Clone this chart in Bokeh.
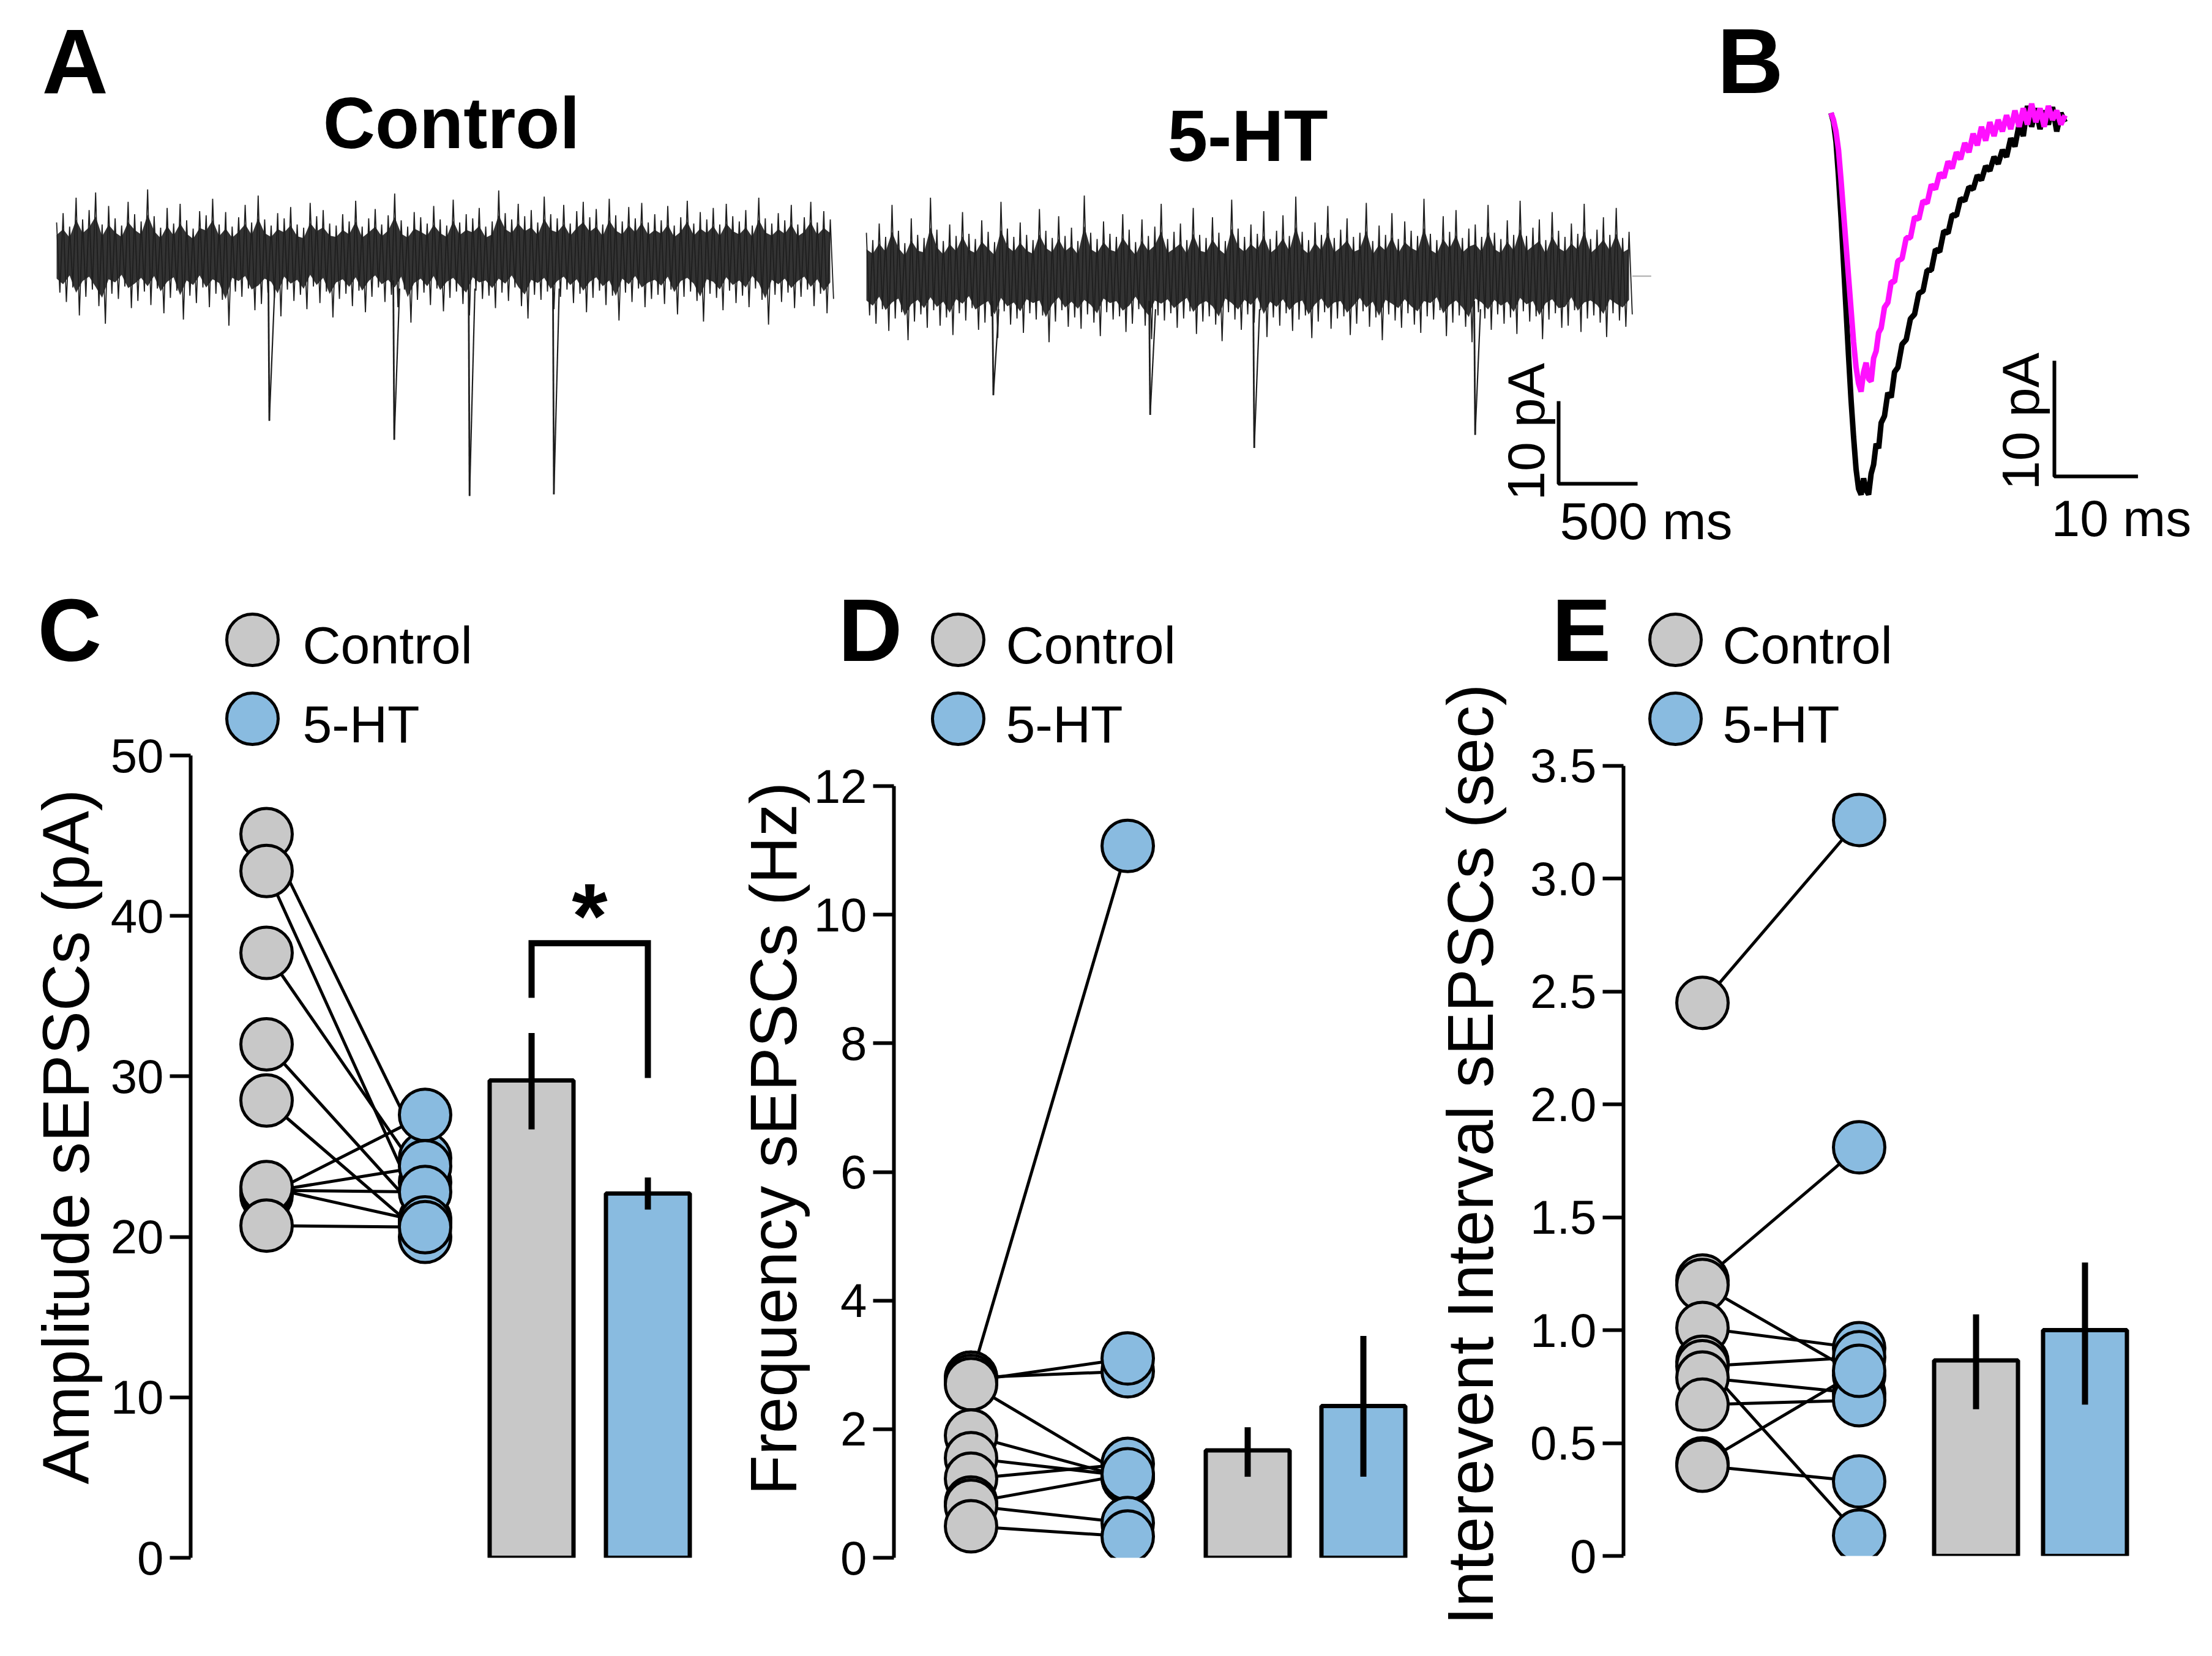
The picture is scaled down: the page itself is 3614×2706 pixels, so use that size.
import numpy as np
from bokeh.plotting import figure
from bokeh.models import Range1d, Label, FixedTicker
from bokeh.layouts import row, column
from bokeh.embed import file_html
from bokeh.resources import INLINE

FONT = "Liberation Sans"
GRAY = "#c8c8c8"
BLUE = "#89bbe0"
MAGENTA = "#ff10ff"
TRACE = "#1e1e1e"
TRACE_CORE = "#333333"

# ---------------------------------------------------------------- data
# Panel A: hand-read noise peaks (relative units, scaled by noise_gain to pA)
noise_gain = 1.25
ctrl_hi = [3.2, 4.1, 2.8, 5.6, 3.5, 4.4, 6.1, 3.0, 4.8, 3.6, 2.9, 5.2, 4.0, 3.3, 6.4, 3.8, 2.7, 4.6, 3.1, 5.0,
           3.4, 2.6, 4.3, 3.9, 5.5, 3.0, 4.2, 2.8, 3.7, 4.9, 3.2, 5.8, 3.5, 2.9, 4.1, 3.6, 4.7, 3.0, 2.7, 5.1,
           3.8, 4.4, 3.1, 2.9, 4.0, 3.3, 5.3, 2.8, 3.6, 4.5, 3.0, 3.9, 6.0, 3.4, 2.8, 4.2, 3.7, 3.1, 4.8, 3.5,
           2.9, 5.4, 3.2, 4.0, 3.6, 4.6, 2.8, 3.3, 6.3, 4.1, 3.5, 5.0, 3.8, 4.4, 3.2, 5.7, 4.0, 3.6, 4.9, 3.1,
           4.3, 5.2, 3.7, 4.5, 3.0, 5.5, 3.9, 3.3, 4.7, 3.6, 5.1, 3.2, 4.0, 3.4, 4.8, 2.9, 3.7, 5.3, 3.1, 4.2,
           3.5, 4.6, 3.0, 5.0, 3.8, 3.3, 4.4, 2.9, 5.6, 3.6, 3.1, 4.1, 3.4, 4.9, 3.0, 3.7, 5.2, 3.2, 4.3, 3.5]
ctrl_lo = [-3.6, -4.5, -3.1, -5.8, -4.0, -3.3, -4.9, -6.6, -3.7, -4.2, -3.0, -5.1, -4.4, -3.5, -4.8, -3.2, -5.6, -4.1, -3.4, -6.2,
           -3.9, -4.6, -3.1, -5.0, -3.7, -4.3, -6.8, -3.5, -4.0, -3.2, -5.3, -4.7, -3.6, -4.1, -5.9, -3.3, -4.4, -3.8, -5.2, -3.0,
           -4.6, -3.5, -6.0, -4.2, -3.7, -4.9, -3.4, -5.5, -4.0, -3.1, -4.5, -3.8, -5.0, -3.3, -6.5, -4.3, -3.6, -4.8, -3.2, -5.4,
           -4.1, -3.5, -4.7, -5.8, -3.4, -4.2, -3.9, -5.1, -3.6, -4.4, -3.1, -4.9, -6.1, -3.8, -4.3, -3.5, -5.2, -4.0, -3.3, -4.6,
           -3.7, -5.5, -4.1, -3.4, -4.8, -3.9, -6.3, -3.6, -4.5, -3.2, -5.0, -4.2, -3.8, -4.7, -3.3, -5.7, -4.0, -3.5, -4.4, -6.4,
           -3.7, -4.1, -5.3, -3.4, -4.6, -3.9, -5.0, -3.2, -4.3, -6.7, -3.8, -4.5, -3.6, -5.1, -4.0, -3.3, -4.9, -3.7, -5.6, -4.2]
ht_hi = [4.2, 3.5, 5.1, 3.8, 6.9, 4.4, 3.2, 5.6, 4.0, 3.7, 7.6, 4.5, 3.4, 5.0, 3.9, 6.2, 4.1, 3.6, 5.4, 4.3,
         3.3, 7.2, 4.6, 3.8, 5.2, 4.0, 3.5, 6.5, 4.4, 3.7, 5.8, 3.9, 4.7, 3.4, 7.8, 4.2, 3.6, 5.3, 4.1, 3.8,
         6.0, 4.5, 3.3, 5.5, 3.9, 4.8, 7.0, 3.6, 4.3, 5.1, 3.5, 6.6, 4.0, 3.7, 5.7, 4.2, 3.4, 7.4, 4.6, 3.8,
         5.0, 4.1, 6.3, 3.6, 4.4, 5.9, 3.9, 7.7, 4.3, 3.5, 5.2, 4.0, 6.8, 3.7, 4.5, 5.6, 3.8, 4.2, 7.1, 3.4,
         4.9, 4.0, 6.1, 3.6, 5.3, 4.4, 3.9, 7.5, 4.1, 3.5, 5.8, 4.3, 6.4, 3.7, 4.6, 5.0, 3.8, 6.9, 4.2, 3.6,
         5.4, 4.0, 7.3, 3.9, 4.7, 5.5, 3.5, 6.2, 4.4, 3.8, 5.1, 4.1, 7.0, 3.6, 4.5, 5.7, 4.0, 6.6, 3.7, 4.3]
ht_lo = [-3.8, -4.6, -3.2, -5.3, -4.1, -3.5, -6.2, -4.4, -3.7, -5.0, -3.3, -4.8, -4.0, -5.7, -3.6, -4.3, -3.1, -5.2, -4.5, -3.9,
         -6.0, -3.4, -4.7, -4.1, -5.5, -3.6, -4.2, -3.8, -6.4, -4.4, -3.3, -4.9, -4.0, -5.1, -3.7, -4.5, -5.8, -3.5, -4.2, -3.9,
         -5.4, -4.6, -3.2, -4.8, -6.1, -3.8, -4.3, -3.6, -5.0, -4.1, -3.4, -5.6, -4.4, -3.9, -4.7, -6.3, -3.5, -4.2, -5.2, -3.7,
         -4.5, -3.3, -5.9, -4.0, -4.8, -3.6, -5.3, -4.2, -3.8, -6.0, -4.4, -3.5, -5.1, -4.1, -3.9, -5.7, -4.6, -3.4, -4.9, -4.0,
         -6.2, -3.7, -4.3, -5.0, -3.6, -4.7, -5.5, -3.9, -4.2, -3.3, -5.8, -4.5, -3.8, -4.9, -6.4, -3.5, -4.1, -5.2, -3.7, -4.6,
         -4.0, -5.6, -3.4, -4.4, -3.9, -6.1, -4.2, -3.6, -5.0, -4.8, -3.3, -5.4, -4.1, -3.8, -4.5, -5.9, -3.6, -4.3, -4.9, -3.7]
ctrl_duration_ms = 4920
ht_duration_ms = 4850
ht_start_ms = 5128
ht_baseline_pa = -2.5
ctrl_spike_t = [1341, 2132, 2609, 3143]
ctrl_spike_amp = [20.0, 22.3, 29.1, 28.9]
ht_spike_t = [798, 1791, 2450, 3849]
ht_spike_amp = [14.4, 16.8, 20.8, 19.2]

# Panel B: averaged sEPSC (ms, pA)
b_t = [0, 0.3, 0.6, 0.9, 1.2, 1.5, 1.8, 2.1, 2.4, 2.7, 3.0, 3.3, 3.6, 3.9, 4.2, 4.5, 4.8, 5.1, 5.4, 5.7, 6.0,
       6.4, 6.8, 7.2, 7.6, 8.0, 8.5, 9.0, 9.5, 10.0, 10.5, 11.0, 11.5, 12.0, 12.5, 13.0, 13.5, 14.0, 14.5, 15.0,
       15.5, 16.0, 16.5, 17.0, 17.5, 18.0, 18.5, 19.0, 19.5, 20.0, 20.5, 21.0, 21.5, 22.0, 22.5, 23.0, 23.5,
       24.0, 24.5, 25.0, 25.5, 26.0, 26.5, 27.0, 27.5, 28.0]
b_control = [0, -0.8, -2.5, -5.5, -9.0, -13.0, -17.0, -21.0, -24.8, -28.0, -30.8, -32.5, -33.0, -31.6, -32.6, -33.0,
             -31.2, -30.4, -28.6, -29.0, -26.8, -26.2, -24.2, -24.6, -22.4, -22.0, -20.0, -19.6, -17.8, -17.4, -15.6,
             -15.4, -13.6, -13.6, -11.8, -12.0, -10.2, -10.4, -8.8, -8.9, -7.4, -7.6, -6.4, -6.6, -5.4, -5.8, -4.6,
             -5.0, -3.8, -4.4, -3.2, -3.8, -2.2, -2.9, -1.0, -2.0, 0.6, -1.2, 0.4, -1.4, 0.2, -1.0, 0.5, -1.6, 0.0, -0.8]
b_5ht = [0, -0.6, -1.6, -3.2, -5.8, -8.6, -11.4, -14.2, -17.0, -19.8, -22.0, -23.4, -24.1, -22.4, -21.6, -23.0,
         -23.2, -21.2, -20.6, -19.0, -18.6, -16.8, -16.4, -14.6, -14.6, -12.8, -12.6, -10.8, -10.8, -9.0, -9.2,
         -7.6, -7.8, -6.2, -6.6, -5.2, -5.6, -4.2, -4.8, -3.4, -4.0, -2.6, -3.4, -1.8, -2.8, -1.2, -2.4, -0.8,
         -2.0, -0.6, -1.6, -0.2, -1.4, 0.2, -1.2, 0.4, -1.0, 0.8, -0.8, 0.4, -1.2, 0.6, -0.6, 0.2, -1.0, -0.2]

# Panel C: amplitude (pA)
amp_control = [45.1, 42.8, 37.7, 32.0, 28.5, 22.6, 22.8, 22.9, 23.1, 20.7]
amp_5ht = [24.9, 21.0, 23.4, 21.1, 20.0, 27.6, 24.4, 22.8, 20.9, 20.6]
amp_mean = [29.75, 22.7]
amp_err_lo = [26.7, 21.7]
amp_err_hi = [32.7, 23.7]
amp_bracket = [34.9, 38.3, 29.9]   # left leg bottom, bracket top, right leg bottom

# Panel D: frequency (Hz)
freq_control = [2.8, 2.8, 2.75, 2.7, 1.9, 1.55, 1.23, 0.86, 0.81, 0.49]
freq_5ht = [11.07, 2.9, 3.1, 1.25, 1.24, 1.27, 1.46, 1.3, 0.54, 0.33]
freq_mean = [1.67, 2.36]
freq_err_lo = [1.26, 1.26]
freq_err_hi = [2.03, 3.45]

# Panel E: interevent interval (s)
iei_control = [2.45, 1.22, 1.20, 1.01, 0.86, 0.84, 0.79, 0.67, 0.41, 0.40]
iei_5ht = [3.26, 1.81, 0.80, 0.92, 0.09, 0.88, 0.72, 0.69, 0.82, 0.33]
iei_mean = [0.866, 1.0]
iei_err_lo = [0.65, 0.67]
iei_err_hi = [1.07, 1.30]

conditions = ["Control", "5-HT"]
cond_colors = [GRAY, BLUE]
y_labels = ["Amplitude sEPSCs (pA)", "Frequency sEPSCs (Hz)", "Interevent Interval sEPSCs (sec)"]

K = 0.07  # svg 'middle' baseline correction (fraction of font size)


def no_align(p):
    try:
        p.frame_align = False
    except Exception:
        pass
    return p


def add_label(p, x, y, text, size, bold=False, align="left", rotated=False):
    p.add_layout(Label(x=x, y=y, text=text, text_font=FONT, text_font_size=f"{size}px",
                       text_font_style="bold" if bold else "normal", text_align=align,
                       text_baseline="middle", angle=(np.pi / 2 if rotated else 0.0),
                       text_color="black"))


def interleave(hi, lo):
    out = []
    for a, b in zip(hi, lo):
        out.extend([a, b])
    return out


def bare(width, height, xr, yr):
    p = figure(width=width, height=height, x_range=xr, y_range=yr,
               x_axis_location=None, y_axis_location=None, toolbar_location=None,
               output_backend="svg", min_border=0)
    p.grid.visible = False
    p.outline_line_color = None
    return no_align(p)


def strip(page_left, page_top, width, height):
    # blank figure whose data coordinates are page pixels (y downwards)
    return bare(width, height, Range1d(page_left, page_left + width),
                Range1d(page_top + height, page_top))


def page_text(p, x, y, text, size, bold=False, align="left", rotated=False):
    if rotated:
        add_label(p, x + K * size, y, text, size, bold, align, rotated=True)
    else:
        add_label(p, x, y + K * size, text, size, bold, align)


# ---------------------------------------------------------------- panel A (page x 8..2930)
A_W, A_H = 2922, 910
A_X0, A_Y0 = 92, 417
A_PXMS, A_PXPA = 0.258, 13.5
XA = lambda page: (page - 8 - A_X0) / A_PXMS
YA = lambda page: (A_Y0 - (page - 8)) / A_PXPA

pA = bare(A_W, A_H, Range1d(-A_X0 / A_PXMS, (A_W - A_X0) / A_PXMS),
          Range1d(-(A_H - A_Y0) / A_PXPA, A_Y0 / A_PXPA))

for start, dur, base, hi, lo in [(0, ctrl_duration_ms, 0.0, ctrl_hi, ctrl_lo),
                                  (ht_start_ms, ht_duration_ms, ht_baseline_pa, ht_hi, ht_lo)]:
    yy = [base + noise_gain * v for v in interleave(hi, lo)]
    tt = start + np.linspace(0, dur, len(yy))
    n = len(yy) // 2
    pA.varea(x=tt[0::2][:n], y1=[base + 0.62 * noise_gain * v for v in lo[:n]],
             y2=[base + 0.62 * noise_gain * v for v in hi[:n]], fill_color=TRACE_CORE)
    pA.line(tt, yy, line_width=1.8, color=TRACE)
    if start > 0:
        pA.line([tt[-1], tt[-1] + 120], [base, base], line_width=2, color="#aaaaaa")

for t0, base, st, sa in [(0, 0.0, ctrl_spike_t, ctrl_spike_amp),
                         (ht_start_ms, ht_baseline_pa, ht_spike_t, ht_spike_amp)]:
    ts = np.array(st) + t0
    amps = np.array(sa)
    pA.segment(x0=ts, y0=base - 3, x1=ts + 6, y1=base - amps, line_width=2.8, color=TRACE)
    pA.segment(x0=ts + 6, y0=base - amps, x1=ts + 40, y1=base - 4, line_width=2.2, color=TRACE)

sbx, sby = XA(2554), YA(663)
pA.line([sbx, sbx, sbx + 500], [sby, sby - 10, sby - 10], line_width=6, color="black")
add_label(pA, XA(2500), YA(713), "10 pA", 86, align="center", rotated=True)
add_label(pA, XA(2556), YA(858), "500 ms", 86)
add_label(pA, XA(745), YA(208), conditions[0], 118, bold=True, align="center")
add_label(pA, XA(2046), YA(229), conditions[1], 118, bold=True, align="center")
add_label(pA, XA(76), YA(107), "A", 150, bold=True)
add_label(pA, XA(2813), YA(107), "B", 150, bold=True)

# ---------------------------------------------------------------- panel B (page x 2930..3606)
B_W, B_H = 676, 910
B_X0, B_Y0 = 69, 184
B_PXMS, B_PXPA = 13.66, 18.9
XB = lambda page: (page - 2930 - B_X0) / B_PXMS
YB = lambda page: (B_Y0 - (page - 8)) / B_PXPA

pB = bare(B_W, B_H, Range1d(-B_X0 / B_PXMS, (B_W - B_X0) / B_PXMS),
          Range1d(-(B_H - B_Y0) / B_PXPA, B_Y0 / B_PXPA))
pB.line(b_t, b_control, line_width=9, color="black")
pB.line(b_t, b_5ht, line_width=9, color=MAGENTA)
bsx, bsy = XB(3364), YB(597)
pB.line([bsx, bsx, bsx + 10], [bsy, bsy - 10, bsy - 10], line_width=6, color="black")
add_label(pB, XB(3308), YB(696), "10 pA", 86, align="center", rotated=True)
add_label(pB, XB(3359), YB(854), "10 ms", 84)


# ---------------------------------------------------------------- bottom panels
def main_panel(page_left, page_top, width, height, frame_left_page, frame_bottom_page, ppu, ticks,
               slots, bar_w, ctrl, ht, means, err_lo, err_hi, overrides=None):
    X = lambda page: (page - frame_left_page) / 100.0
    Y = lambda page: (frame_bottom_page - page) / ppu
    fl = frame_left_page - page_left
    p = figure(width=width, height=height, x_range=Range1d(0, (width - fl) / 100.0),
               y_range=Range1d(0, (frame_bottom_page - page_top) / ppu),
               x_axis_location=None, y_axis_location="left", toolbar_location=None,
               output_backend="svg", min_border_left=fl, min_border_right=0, min_border_top=0,
               min_border_bottom=page_top + height - frame_bottom_page)
    no_align(p)
    p.grid.visible = False
    p.outline_line_color = None
    ax = p.yaxis[0]
    ax.ticker = FixedTicker(ticks=ticks)
    ax.bounds = (ticks[0], ticks[-1])
    ax.axis_line_width = 6
    ax.major_tick_line_width = 6
    ax.major_tick_out = 34
    ax.major_tick_in = 0
    ax.minor_tick_out = 0
    ax.minor_tick_in = 0
    ax.major_label_standoff = 10
    ax.major_label_text_font = FONT
    ax.major_label_text_font_size = "78px"
    ax.major_label_text_color = "black"
    if overrides:
        ax.major_label_overrides = overrides

    xc, xh, xbc, xbh = [X(v) for v in slots]
    bw = bar_w / 100.0
    n = len(ctrl)
    p.vbar(x=[xbc, xbh], top=means, bottom=0, width=bw, fill_color=cond_colors,
           line_color="black", line_width=7)
    p.segment(x0=[xbc, xbh], y0=err_lo, x1=[xbc, xbh], y1=err_hi, line_width=10, color="black")
    p.segment(x0=[xc] * n, y0=ctrl, x1=[xh] * n, y1=ht, line_width=5, color="black")
    p.scatter(x=[xc] * n, y=ctrl, size=84, fill_color=GRAY, line_color="black", line_width=5)
    p.scatter(x=[xh] * n, y=ht, size=84, fill_color=BLUE, line_color="black", line_width=5)
    return p, X, Y, xbc, xbh


def legend_entry(p, X, Y, i, cx, cy, tx, ty):
    p.scatter(x=[X(cx)], y=[Y(cy)], size=84, fill_color=cond_colors[i],
              line_color="black", line_width=5)
    add_label(p, X(tx), Y(ty + K * 86), conditions[i], 86)


ident = lambda v: v

# ---- C: strip (8..180) + main (180..1180)
sC = strip(8, 918, 172, 1780)
page_text(sC, 69, 1027, "C", 145, bold=True)
page_text(sC, 108, 1865, y_labels[0], 107, align="center", rotated=True)
pC, XC, YC, xbc, xbh = main_panel(180, 918, 1000, 1780, 319, 2553, 26.22, [0, 10, 20, 30, 40, 50],
                                  [443, 702, 876, 1066], 137,
                                  amp_control, amp_5ht, amp_mean, amp_err_lo, amp_err_hi)
legend_entry(pC, XC, YC, 0, 420, 1053, 502, 1055)
legend_entry(pC, XC, YC, 1, 420, 1182, 502, 1184)
pC.line([xbc, xbc, xbh, xbh], [amp_bracket[0], amp_bracket[1], amp_bracket[1], amp_bracket[2]],
        line_width=10, color="black", line_join="miter")
add_label(pC, (xbc + xbh) / 2, YC(1504), "*", 150, bold=True, align="center")

# ---- D: left strip (1180..1333) + [top strip, main] (1333..2345)
sDL = strip(1180, 918, 153, 1780)
page_text(sDL, 1264, 1868, y_labels[1], 107, align="center", rotated=True)
sDT = strip(1333, 918, 1012, 322)
legend_entry(sDT, ident, ident, 0, 1573, 1053, 1651, 1055)
legend_entry(sDT, ident, ident, 1, 1573, 1182, 1651, 1184)
page_text(sDT, 1377, 1027, "D", 145, bold=True)
pD, *_ = main_panel(1333, 1240, 1012, 1458, 1468, 2553, 105.08, [0, 2, 4, 6, 8, 10, 12],
                    [1594, 1850, 2046, 2235], 137,
                    freq_control, freq_5ht, freq_mean, freq_err_lo, freq_err_hi)

# ---- E: left strip (2345..2470) + [top strip, main] (2470..3606)
sEL = strip(2345, 918, 125, 1780)
page_text(sEL, 2402, 1894, y_labels[2], 106, align="center", rotated=True)
sET = strip(2470, 918, 1136, 207)
legend_entry(sET, ident, ident, 0, 2745, 1053, 2822, 1055)
page_text(sET, 2543, 1027, "E", 145, bold=True)
pE, XE, YE, *_ = main_panel(2470, 1125, 1136, 1573, 2660, 2550, 368.9,
                            [0, 0.5, 1.0, 1.5, 2.0, 2.5, 3.0, 3.5],
                            [2789, 3045, 3236, 3414], 137,
                            iei_control, iei_5ht, iei_mean, iei_err_lo, iei_err_hi,
                            overrides={0: "0", 1: "1.0", 2: "2.0", 3: "3.0"})
legend_entry(pE, XE, YE, 1, 2745, 1182, 2822, 1184)

layout = column(row(pA, pB),
                row(sC, pC, sDL, column(sDT, pD), sEL, column(sET, pE)))
open("out.html", "w").write(file_html(layout, INLINE))
